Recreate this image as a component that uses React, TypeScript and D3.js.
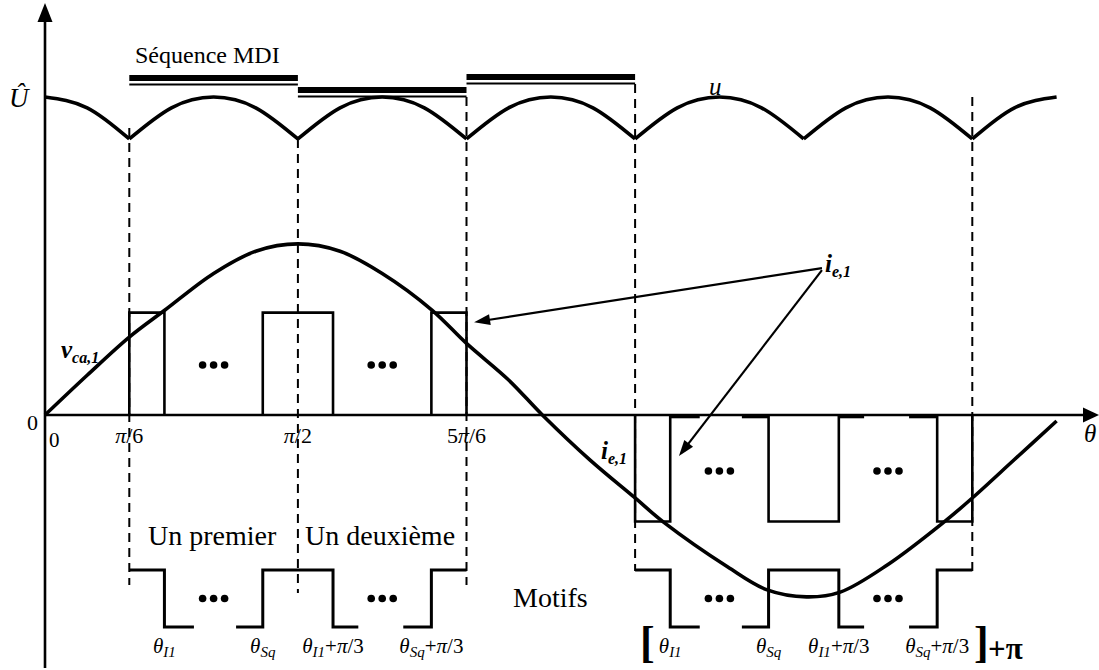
import React from 'react';
import * as d3 from 'd3';

// angles in degrees (0..360 = 0..2π)
const thetaI1 = 42.5;
const thetaSq = 77.5;

// v_ca,1 (angle, per-unit of Û)
const vAngles = [0, 15, 30, 42.7, 60, 75, 90, 105, 120, 137.7, 150, 165, 177, 194, 210, 220, 243, 257, 271, 283, 300, 320, 330, 345, 360];
const vValues = [0, 0.125, 0.245, 0.33, 0.445, 0.515, 0.538, 0.515, 0.445, 0.33, 0.225, 0.11, 0, -0.142, -0.261, -0.336, -0.478, -0.55, -0.572, -0.557, -0.47, -0.336, -0.261, -0.14, -0.019];

// u envelope
const uAngles = [0, 15, 30, 45, 60, 75, 90, 105, 120, 135, 150, 165, 180, 195, 210, 225, 240, 255, 270, 285, 300, 315, 330, 345, 360];
const uValues = [1, 0.966, 0.868, 0.966, 1, 0.966, 0.868, 0.966, 1, 0.966, 0.868, 0.966, 1, 0.966, 0.868, 0.966, 1, 0.966, 0.868, 0.966, 1, 0.966, 0.868, 0.966, 1];

// i_e,1 pulses
const posPulses: [number, number][] = [[30, thetaI1], [thetaSq, thetaI1 + 60], [thetaSq + 60, 150]];
const negPulses: [number, number][] = [[210, thetaI1 + 180], [thetaSq + 180, thetaI1 + 240], [thetaSq + 240, 330]];
const iPos = 0.322;
const iNeg = -0.335;
const zeroSegs: [number, number][] = [[thetaI1 + 180, 233], [248, thetaSq + 180], [thetaI1 + 240, 291.5], [307.5, thetaSq + 240]];

// motif pieces (angle, level 0/1)
const motifPieces: [number, number][][] = [
  [[30, 1], [thetaI1, 1], [thetaI1, 0], [53, 0]],
  [[68, 0], [thetaSq, 0], [thetaSq, 1], [thetaI1 + 60, 1], [thetaI1 + 60, 0], [111.5, 0]],
  [[127.5, 0], [thetaSq + 60, 0], [thetaSq + 60, 1], [150, 1]],
];
const motifShifts = [0, 180];

const seqBars: [number, number][] = [[30, 90], [90, 150], [150, 210]];
const dashAngles = [30, 90, 150, 210, 330];
const dotAngles = [60, 120, 240, 300];

const tickLabels = [
  { deg: 30, pre: '', post: '/6' },
  { deg: 90, pre: '', post: '/2' },
  { deg: 150, pre: '5', post: '/6' },
];
const motifLabels = [
  { deg: thetaI1, sub: 'I1', plus: false },
  { deg: thetaSq, sub: 'Sq', plus: false },
  { deg: thetaI1 + 60, sub: 'I1', plus: true },
  { deg: thetaSq + 60, sub: 'Sq', plus: true },
];

const W = 1099;
const H = 670;
const FONT = "'Liberation Serif', 'Times New Roman', serif";

const x = d3.scaleLinear().domain([0, 360]).range([45, 1056.6]);
const y = d3.scaleLinear().domain([0, 1]).range([415, 97]);
const ym = d3.scaleLinear().domain([0, 1]).range([627, 570]);

const barY = [78, 90, 77];
const dashTop = [128, 139, 97, 84, 97];
const dashBottom = [585, 593, 585, 571, 571];

const arrow = (x1: number, y1: number, x2: number, y2: number, key: string) => {
  const len = 16;
  const hw = 5.5;
  const dx = x2 - x1;
  const dy = y2 - y1;
  const d = Math.hypot(dx, dy);
  const ux = dx / d;
  const uy = dy / d;
  const bx = x2 - ux * len;
  const by = y2 - uy * len;
  return (
    <g key={key}>
      <line x1={x1} y1={y1} x2={bx + ux * 2} y2={by + uy * 2} stroke="#000" strokeWidth={2.2} />
      <polygon
        points={`${x2},${y2} ${bx - uy * hw},${by + ux * hw} ${bx + uy * hw},${by - ux * hw}`}
        fill="#000"
      />
    </g>
  );
};

const Dots = ({ cx, cy }: { cx: number; cy: number }) => (
  <g>
    {[-11, 0, 11].map((o) => (
      <circle key={o} cx={cx + o} cy={cy} r={3.8} fill="#000" />
    ))}
  </g>
);

const App = () => {
  const line = d3.line();

  const vPts: [number, number][] = vAngles.map((a, i) => [x(a), y(vValues[i])]);
  const vPath = d3.line().curve(d3.curveCatmullRom.alpha(0.5))(vPts);

  // split the u envelope into arcs at its cusps
  const uArcs: [number, number][][] = [];
  let cur: [number, number][] = [];
  uAngles.forEach((a, i) => {
    cur.push([x(a), y(uValues[i])]);
    const isMin = i > 0 && i < uValues.length - 1 && uValues[i] < uValues[i - 1] && uValues[i] < uValues[i + 1];
    if (isMin) {
      uArcs.push(cur);
      cur = [[x(a), y(uValues[i])]];
    }
  });
  uArcs.push(cur);
  const uLine = d3.line().curve(d3.curveNatural);

  const pulse = (a: number, b: number, lvl: number) =>
    line([[x(a), y(0)], [x(a), y(lvl)], [x(b), y(lvl)], [x(b), y(0)]]);

  const arrowStart = [x(276.5), y(0.462)];

  return (
    <svg
      width={W}
      height={H}
      style={{ position: 'absolute', left: 0, top: 0, background: '#fff' }}
      fontFamily={FONT}
    >
      {/* dashed guides */}
      {dashAngles.map((a, i) => (
        <line
          key={a}
          x1={x(a)}
          x2={x(a)}
          y1={dashTop[i]}
          y2={dashBottom[i]}
          stroke="#000"
          strokeWidth={2}
          strokeDasharray="9 6"
        />
      ))}

      {/* MDI sequence bars */}
      {seqBars.map(([a, b], i) => (
        <g key={i}>
          <line x1={x(a)} x2={x(b)} y1={barY[i]} y2={barY[i]} stroke="#000" strokeWidth={6} />
          <line x1={x(a)} x2={x(b)} y1={barY[i] + 6.5} y2={barY[i] + 6.5} stroke="#000" strokeWidth={2} />
        </g>
      ))}

      {/* u envelope */}
      {uArcs.map((arc, i) => (
        <path key={i} d={uLine(arc) || ''} fill="none" stroke="#000" strokeWidth={3.6} strokeLinejoin="round" />
      ))}

      {/* axes */}
      <line x1={45} x2={45} y1={18} y2={668} stroke="#000" strokeWidth={2.6} />
      <polygon points="45,3 37.5,22 52.5,22" fill="#000" />
      <line x1={45} x2={1086} y1={415} y2={415} stroke="#000" strokeWidth={2.6} />
      <polygon points="1099,415 1083,407.5 1083,422.5" fill="#000" />

      {/* i_e,1 pulses */}
      {posPulses.map(([a, b], i) => (
        <path key={'p' + i} d={pulse(a, b, iPos) || ''} fill="none" stroke="#000" strokeWidth={2.6} />
      ))}
      {negPulses.map(([a, b], i) => (
        <path key={'n' + i} d={pulse(a, b, iNeg) || ''} fill="none" stroke="#000" strokeWidth={2.6} />
      ))}
      {zeroSegs.map(([a, b], i) => (
        <line key={'z' + i} x1={x(a)} x2={x(b)} y1={416.5} y2={416.5} stroke="#000" strokeWidth={3.6} />
      ))}

      {/* v_ca,1 */}
      <path d={vPath || ''} fill="none" stroke="#000" strokeWidth={3.6} strokeLinejoin="round" />

      {/* motifs */}
      {motifShifts.map((s) =>
        motifPieces.map((p, i) => (
          <path
            key={s + 'm' + i}
            d={line(p.map(([a, l]) => [x(a + s), ym(l)] as [number, number])) || ''}
            fill="none"
            stroke="#000"
            strokeWidth={3}
          />
        )),
      )}

      {/* dots */}
      {dotAngles.map((a) => (
        <Dots key={'d' + a} cx={x(a)} cy={a < 180 ? y(0.157) : y(-0.176)} />
      ))}
      {dotAngles.map((a) => (
        <Dots key={'md' + a} cx={x(a)} cy={ym(0.5)} />
      ))}

      {/* arrows */}
      {arrow(arrowStart[0], arrowStart[1], x(152.7), y(0.292), 'a1')}
      {arrow(arrowStart[0], arrowStart[1] + 2, x(225.6), y(-0.129), 'a2')}

      {/* texts */}
      <text x={135} y={63} fontSize={24}>Séquence MDI</text>
      <text x={9} y={107} fontSize={27} fontStyle="italic">Û</text>
      <text x={709} y={95} fontSize={25} fontStyle="italic">u</text>

      <text x={61} y={358} fontSize={25} fontStyle="italic" fontWeight="bold">
        v<tspan fontSize={16} dy={5}>ca,1</tspan>
      </text>
      <text x={825} y={272} fontSize={25} fontStyle="italic" fontWeight="bold">
        i<tspan fontSize={16} dy={5}>e,1</tspan>
      </text>
      <text x={601} y={459} fontSize={25} fontStyle="italic" fontWeight="bold">
        i<tspan fontSize={16} dy={5}>e,1</tspan>
      </text>

      <text x={27} y={430} fontSize={22}>0</text>
      <text x={49} y={447} fontSize={21}>0</text>
      {tickLabels.map((t) => (
        <text key={t.deg} x={x(t.deg)} y={443} fontSize={22} textAnchor="middle">
          {t.pre}
          <tspan fontStyle="italic">π</tspan>
          {t.post}
        </text>
      ))}
      <text x={1084} y={442} fontSize={25} fontStyle="italic">θ</text>

      <text x={148} y={545} fontSize={28}>Un premier</text>
      <text x={305} y={545} fontSize={28}>Un deuxième</text>
      <text x={513} y={607} fontSize={28}>Motifs</text>

      {motifShifts.map((s) =>
        motifLabels.map((m, i) => (
          <text key={s + 'l' + i} x={x(m.deg + s)} y={653} fontSize={21} textAnchor="middle">
            <tspan fontStyle="italic">θ</tspan>
            <tspan fontStyle="italic" fontSize={15} dy={4}>{m.sub}</tspan>
            {m.plus ? (
              <>
                <tspan dy={-4}>+</tspan>
                <tspan fontStyle="italic">π</tspan>
                <tspan>/3</tspan>
              </>
            ) : null}
          </text>
        )),
      )}
      <text x={640} y={657} fontSize={44} fontWeight="bold">[</text>
      <text x={974} y={657} fontSize={44} fontWeight="bold">]</text>
      <text x={988} y={659} fontSize={31} fontWeight="bold">+π</text>
    </svg>
  );
};

export default App;
